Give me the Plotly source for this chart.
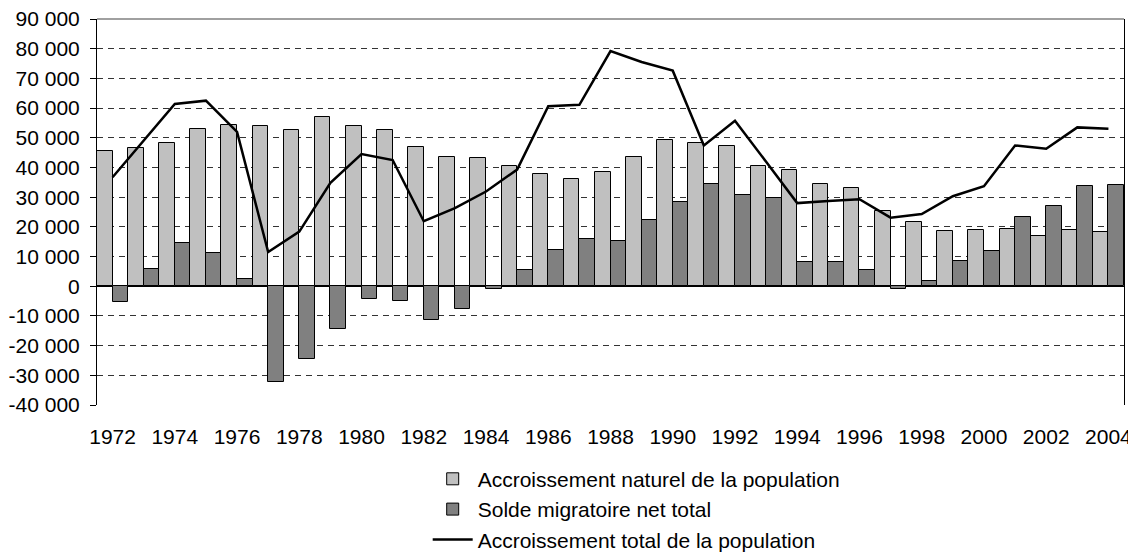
import plotly.graph_objects as go

years = list(range(1972, 2005))

naturel = [
    45700, 46500, 48100, 52800, 54300, 54000, 52500, 57000, 53900, 52500,
    47000, 43500, 43100, 40400, 37700, 36100, 38400, 43500, 49400, 48100,
    47100, 40500, 39100, 34500, 33000, 25500, 21600, 18700, 18800, 19200,
    16800, 19000, 18400,
]
migratoire = [
    -5400, 5800, 14600, 11100, 2400, -32400, -24600, -14400, -4400, -5100,
    -11500, -7800, -800, 5300, 12300, 15900, 15400, 22200, 28300, 34400,
    30800, 29700, 8200, 8000, 5500, -1000, 1700, 8400, 12000, 23300,
    26900, 33900, 34200,
]
total = [
    36700, 49000, 61400, 62500, 52000, 11500, 18400, 34800, 44500, 42500,
    21900, 26300, 31900, 39300, 60600, 61100, 79200, 75500, 72600, 47400,
    55700, 41900, 28000, 28700, 29300, 23100, 24300, 30300, 33700, 47400,
    46300, 53500, 53000,
]

year_labels = years[::2]
y_ticks = list(range(-40000, 90001, 10000))
y_text = [f"{v:,}".replace(",", " ") for v in y_ticks]
boundary_ticks = [y - 0.5 for y in years[::4]]

FONT = "Liberation Sans, Arial, sans-serif"

fig = go.Figure()
fig.add_trace(go.Bar(
    x=years, y=naturel, name="Accroissement naturel de la population",
    marker={"color": "#c0c0c0", "line": {"color": "#000000", "width": 1}},
))
fig.add_trace(go.Bar(
    x=years, y=migratoire, name="Solde migratoire net total",
    marker={"color": "#808080", "line": {"color": "#000000", "width": 1}},
))
fig.add_trace(go.Scatter(
    x=years, y=total, name="Accroissement total de la population",
    mode="lines", line={"color": "#000000", "width": 2.5},
))

# the page body has an 8px margin, so the figure is sized and offset for it
fig.update_layout(
    width=1128,
    height=544,
    margin={"l": 89, "r": 12, "t": 11, "b": 147, "autoexpand": False},
    paper_bgcolor="white",
    plot_bgcolor="white",
    barmode="group",
    bargap=0,
    bargroupgap=0,
    font={"family": FONT, "size": 21, "color": "#000000"},
    showlegend=True,
    legend={
        "x": 0.322, "y": -0.139, "xanchor": "left", "yanchor": "top",
        "font": {"size": 21}, "tracegroupgap": 0, "itemwidth": 40,
        "bgcolor": "rgba(0,0,0,0)",
    },
    xaxis={
        "range": [1971.5, 2004.5],
        "tickvals": year_labels,
        "ticks": "",
        "ticklabelstandoff": 17,
        "ticklabeloverflow": "allow",
        "showgrid": False,
        "showline": False,
        "zeroline": False,
        "automargin": False,
    },
    xaxis2={
        "overlaying": "x",
        "anchor": "free",
        "position": 4 / 13,
        "side": "bottom",
        "range": [1971.5, 2004.5],
        "tickvals": boundary_ticks,
        "ticks": "outside",
        "ticklen": 6,
        "tickcolor": "#000000",
        "showticklabels": False,
        "showgrid": False,
        "showline": True,
        "linecolor": "#000000",
        "linewidth": 1,
        "zeroline": False,
        "automargin": False,
    },
    yaxis={
        "range": [-40000, 90000],
        "tickvals": y_ticks,
        "ticktext": y_text,
        "ticks": "outside",
        "ticklen": 6,
        "tickcolor": "#000000",
        "ticklabelstandoff": 6,
        "ticklabeloverflow": "allow",
        "showgrid": True,
        "gridcolor": "#333333",
        "gridwidth": 1,
        "griddash": "6px,5px",
        "showline": True,
        "linecolor": "#000000",
        "linewidth": 1,
        "mirror": True,
        "zeroline": True,
        "zerolinecolor": "#000000",
        "zerolinewidth": 1,
        "automargin": False,
    },
    shapes=[{
        "type": "line", "xref": "paper", "yref": "paper",
        "x0": 0, "x1": 1, "y0": 1, "y1": 1,
        "line": {"color": "#808080", "width": 1.5},
    }],
)

fig.write_html("out.html")
